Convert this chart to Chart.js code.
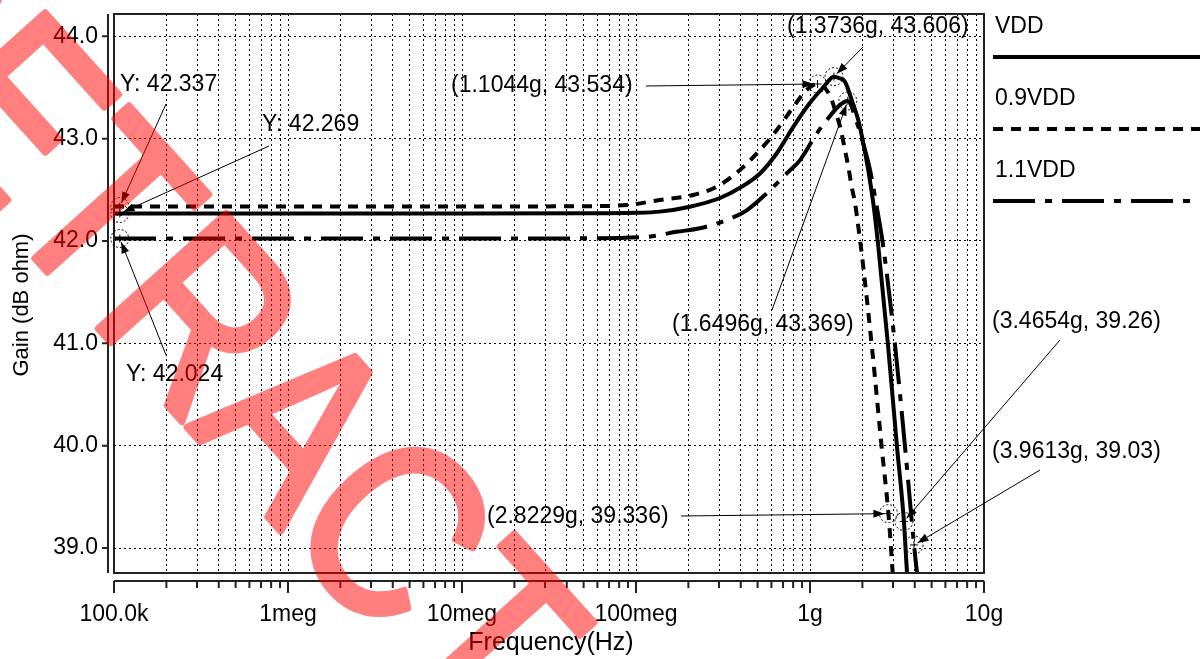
<!DOCTYPE html>
<html>
<head>
<meta charset="utf-8">
<script src="https://cdn.jsdelivr.net/npm/chart.js@4.4.1/dist/chart.umd.min.js"></script>
<style>
  html, body { margin: 0; padding: 0; background: #fff; }
  #wrap { width: 1203px; height: 659px; position: relative; }
</style>
</head>
<body>
<div id="wrap"><canvas id="gain"></canvas></div>
<script>
// three supply corners, gain (dB ohm) vs frequency (Hz)
var seriesNames = ['VDD', '0.9VDD', '1.1VDD'];

var freqVdd = [1e5, 1e6, 1e7, 5e7, 1e8, 1.37e8, 2.04e8, 3.04e8, 3.96e8, 5.16e8, 6.46e8, 7.98e8, 1e9, 1.19e9, 1.3736e9, 1.48e9, 1.589e9, 1.736e9, 1.895e9, 2.025e9, 2.163e9, 2.311e9, 2.47e9, 2.807e9, 3.162e9, 3.4654e9, 3.61e9, 3.8e9];
var gainVdd = [42.269, 42.269, 42.269, 42.27, 42.275, 42.287, 42.335, 42.42, 42.52, 42.66, 42.86, 43.11, 43.35, 43.5, 43.606, 43.59, 43.557, 43.378, 43.18, 42.955, 42.69, 42.368, 41.944, 40.984, 39.99, 39.26, 38.756, 38.2];

var freq09 = [1e5, 1e6, 1e7, 5e7, 8.84e7, 1.37e8, 2.13e8, 2.91e8, 3.96e8, 5.16e8, 6.44e8, 8.02e8, 9.57e8, 1.1044e9, 1.303e9, 1.41e9, 1.488e9, 1.589e9, 1.66e9, 1.736e9, 1.814e9, 1.895e9, 1.982e9, 2.263e9, 2.58e9, 2.8229e9, 2.988e9, 3.15e9];
var gain09 = [42.337, 42.337, 42.337, 42.34, 42.352, 42.40, 42.45, 42.53, 42.694, 42.889, 43.085, 43.31, 43.476, 43.534, 43.42, 43.25, 43.117, 42.889, 42.726, 42.531, 42.371, 42.14, 41.88, 40.984, 39.99, 39.336, 38.756, 38.2];

var freq11 = [1e5, 1e6, 1e7, 5e7, 1.15e8, 1.71e8, 2.33e8, 3.32e8, 4.33e8, 5.64e8, 7.35e8, 8.77e8, 1.093e9, 1.247e9, 1.487e9, 1.6496e9, 1.85e9, 2.071e9, 2.212e9, 2.418e9, 2.638e9, 3.08e9, 3.516e9, 3.9613e9, 4.12e9, 4.4e9];
var gain11 = [42.024, 42.024, 42.024, 42.026, 42.04, 42.09, 42.124, 42.205, 42.30, 42.466, 42.66, 42.79, 43.05, 43.18, 43.33, 43.369, 43.17, 42.889, 42.694, 42.335, 41.944, 40.984, 39.99, 39.03, 38.756, 38.3];

var yTicks = [39, 40, 41, 42, 43, 44];
var xDecades = [1e5, 1e6, 1e7, 1e8, 1e9, 1e10];
var xTickLabels = ['100.0k', '1meg', '10meg', '100meg', '1g', '10g'];

// marker callouts
var markText = ['Y: 42.337', 'Y: 42.269', 'Y: 42.024', '(1.1044g, 43.534)', '(1.3736g, 43.606)', '(1.6496g, 43.369)', '(2.8229g, 39.336)', '(3.4654g, 39.26)', '(3.9613g, 39.03)'];
var markFreq = [1.08e5, 1.08e5, 1.08e5, 1.1044e9, 1.3736e9, 1.6496e9, 2.8229e9, 3.4654e9, 3.9613e9];
var markGain = [42.337, 42.269, 42.024, 43.534, 43.606, 43.369, 39.336, 39.26, 39.03];
// text left/middle and leader start, in pixels
var markTextPos = [[120, 85], [262, 125], [126, 375], [451, 86], [787, 27], [672, 325], [487, 517], [992, 322], [992, 452]];
var markLeadFrom = [[166, 104], [269, 146], [166, 355], [646, 86], [863, 47], [772, 310], [681, 516], [1060, 340], [1040, 470]];

// watermark, letters laid along a tilted baseline
var wmLetters = ['R', 'E', 'T', 'R', 'A', 'C', 'T'];
var wmAlong = [-282, -132, 0, 144, 288, 432, 576];
var wmAnchor = [108, 205];
var wmAngle = 48;

var xGridValues = [];
xDecades.forEach(function (d, i) {
    if (i === xDecades.length - 1) { xGridValues.push(d); return; }
    for (var m = 1; m < 10; m++) xGridValues.push(d * m);
});

function pts(fs, gs) {
    return fs.map(function (f, i) { return { x: f, y: gs[i] }; });
}

var FONT = '"Liberation Sans", Arial, sans-serif';
Chart.defaults.font.family = FONT;
Chart.defaults.font.size = 23;
Chart.defaults.color = '#000';

function arrow(ctx, x1, y1, x2, y2) {
    var a = Math.atan2(y2 - y1, x2 - x1);
    ctx.beginPath();
    ctx.moveTo(x1, y1);
    ctx.lineTo(x2, y2);
    ctx.stroke();
    ctx.beginPath();
    ctx.moveTo(x2, y2);
    ctx.lineTo(x2 - 11 * Math.cos(a) + 4 * Math.sin(a), y2 - 11 * Math.sin(a) - 4 * Math.cos(a));
    ctx.lineTo(x2 - 11 * Math.cos(a) - 4 * Math.sin(a), y2 - 11 * Math.sin(a) + 4 * Math.cos(a));
    ctx.closePath();
    ctx.fill();
}

var decor = {
    id: 'decor',
    beforeDraw: function (chart) {
        var ctx = chart.ctx;
        ctx.save();
        ctx.fillStyle = '#fff';
        ctx.fillRect(0, 0, chart.width, chart.height);
        ctx.restore();
    },
    afterDraw: function (chart) {
        var ctx = chart.ctx, a = chart.chartArea;
        var xs = chart.scales.x, ys = chart.scales.y;
        ctx.save();

        // plot frame
        ctx.strokeStyle = '#222';
        ctx.lineWidth = 2;
        ctx.strokeRect(a.left, a.top, a.right - a.left, a.bottom - a.top);

        // detached y axis line + ticks
        var yx = a.left - 6;
        ctx.beginPath();
        ctx.moveTo(yx, a.top); ctx.lineTo(yx, a.bottom);
        yTicks.forEach(function (v) {
            var py = ys.getPixelForValue(v);
            ctx.moveTo(yx - 6, py); ctx.lineTo(yx, py);
        });
        ctx.stroke();

        // detached x axis line + ticks
        var xy = a.bottom + 8;
        ctx.beginPath();
        ctx.moveTo(a.left, xy); ctx.lineTo(a.right, xy);
        xGridValues.forEach(function (v) {
            var px = xs.getPixelForValue(v);
            var major = xDecades.indexOf(v) >= 0;
            ctx.moveTo(px, xy); ctx.lineTo(px, xy + (major ? 12 : 7));
        });
        ctx.stroke();

        // axis titles
        ctx.fillStyle = '#000';
        ctx.textAlign = 'center';
        ctx.textBaseline = 'middle';
        ctx.font = '25px ' + FONT;
        ctx.fillText('Frequency(Hz)', 551, 643);
        ctx.font = '22px ' + FONT;
        ctx.save();
        ctx.translate(22, 305);
        ctx.rotate(-Math.PI / 2);
        ctx.fillText('Gain (dB ohm)', 0, 0);
        ctx.restore();

        // legend at right
        ctx.font = '23px ' + FONT;
        ctx.textAlign = 'left';
        chart.data.datasets.forEach(function (ds, i) {
            var ty = 27 + i * 72;
            ctx.fillText(ds.label, 995, ty);
            ctx.save();
            ctx.lineWidth = 4;
            ctx.strokeStyle = '#000';
            ctx.setLineDash(ds.borderDash || []);
            ctx.beginPath();
            ctx.moveTo(993, ty + 30); ctx.lineTo(1200, ty + 30);
            ctx.stroke();
            ctx.restore();
        });

        // markers and callouts
        ctx.lineWidth = 1;
        ctx.strokeStyle = '#000';
        markText.forEach(function (t, i) {
            var mx = xs.getPixelForValue(markFreq[i]);
            var my = ys.getPixelForValue(markGain[i]);
            ctx.save();
            ctx.setLineDash([2, 2]);
            ctx.beginPath();
            ctx.arc(mx, my, 9, 0, Math.PI * 2);
            ctx.stroke();
            ctx.setLineDash([]);
            ctx.beginPath();
            ctx.moveTo(mx - 4, my); ctx.lineTo(mx + 4, my);
            ctx.moveTo(mx, my - 4); ctx.lineTo(mx, my + 4);
            ctx.stroke();
            ctx.restore();

            var f = markLeadFrom[i];
            var d = Math.hypot(mx - f[0], my - f[1]);
            arrow(ctx, f[0], f[1], mx - (mx - f[0]) * 4 / d, my - (my - f[1]) * 4 / d);

            ctx.fillText(t, markTextPos[i][0], markTextPos[i][1]);
        });
        ctx.restore();

        // red watermark, on top
        var off = document.createElement('canvas');
        off.width = chart.width; off.height = chart.height;
        var o = off.getContext('2d');
        var ang = wmAngle * Math.PI / 180;
        o.fillStyle = '#ff0000';
        o.strokeStyle = '#ff0000';
        o.lineWidth = 7;
        o.lineJoin = 'round';
        o.font = '250px ' + FONT;
        o.textAlign = 'center';
        o.textBaseline = 'alphabetic';
        wmLetters.forEach(function (ch, k) {
            o.save();
            o.translate(wmAnchor[0] + wmAlong[k] * Math.cos(ang), wmAnchor[1] + wmAlong[k] * Math.sin(ang));
            o.rotate(ang);
            o.scale(0.85, 1);
            o.fillText(ch, 0, 90);
            o.strokeText(ch, 0, 90);
            o.restore();
        });
        ctx.save();
        ctx.globalAlpha = 0.5;
        ctx.drawImage(off, 0, 0);
        ctx.restore();
    }
};

var ctx = document.getElementById('gain').getContext('2d');
var gainChart = new Chart(ctx, {
    type: 'line',
    data: {
        datasets: [{
            label: seriesNames[0],
            data: pts(freqVdd, gainVdd),
            borderDash: []
        }, {
            label: seriesNames[1],
            data: pts(freq09, gain09),
            borderDash: [10, 8]
        }, {
            label: seriesNames[2],
            data: pts(freq11, gain11),
            borderDash: [42, 10, 7, 10]
        }]
    },
    options: {
        responsive: true,
        maintainAspectRatio: false,
        animation: false,
        layout: { padding: { top: 14, right: 219, left: 0, bottom: 0 } },
        elements: {
            line: { borderColor: '#000', borderWidth: 4, fill: false, cubicInterpolationMode: 'monotone' },
            point: { radius: 0, hoverRadius: 0 }
        },
        plugins: { legend: { display: false }, tooltip: { enabled: false } },
        scales: {
            x: {
                type: 'logarithmic',
                min: 1e5,
                max: 1e10,
                afterBuildTicks: function (s) { s.ticks = xGridValues.map(function (v) { return { value: v }; }); },
                afterFit: function (s) { s.height = 86; s.paddingLeft = 0; s.paddingRight = 0; },
                grid: { color: '#000', lineWidth: 1, drawTicks: false },
                border: { display: false, dash: [2, 3] },
                ticks: {
                    autoSkip: false, maxRotation: 0, padding: 28,
                    callback: function (v) {
                        var i = xDecades.indexOf(v);
                        return i >= 0 ? xTickLabels[i] : '';
                    }
                }
            },
            y: {
                type: 'linear',
                min: 38.756,
                max: 44.218,
                afterBuildTicks: function (s) { s.ticks = yTicks.map(function (v) { return { value: v }; }); },
                afterFit: function (s) { s.width = 114; s.paddingTop = 0; s.paddingBottom = 0; },
                grid: { color: '#000', lineWidth: 1, drawTicks: false },
                border: { display: false, dash: [2, 3] },
                ticks: {
                    padding: 16,
                    callback: function (v) { return Number(v).toFixed(1); }
                }
            }
        }
    },
    plugins: [decor]
});
</script>
</body>
</html>
